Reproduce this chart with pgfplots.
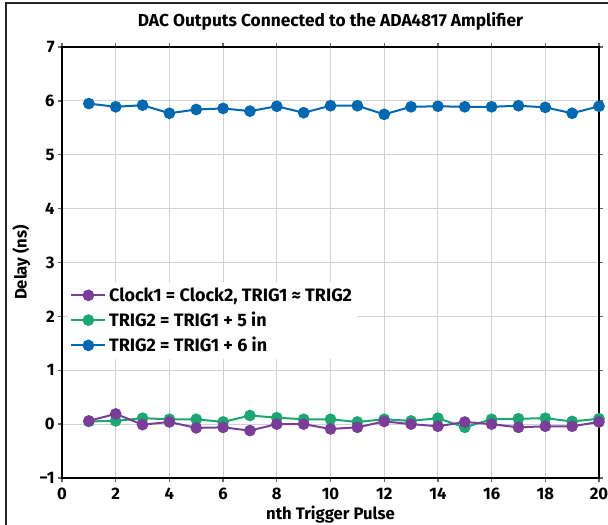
\documentclass[border=0pt]{standalone}
\usepackage{pgfplots}
\pgfplotsset{compat=1.18}
\usepackage{fontspec}
\setmainfont{Fira Sans}
\definecolor{cblue}{RGB}{0,103,177}
\definecolor{cgreen}{RGB}{28,166,114}
\definecolor{cpurple}{RGB}{122,62,152}
\begin{document}
\begin{tikzpicture}[x=0.75pt,y=0.75pt]
\useasboundingbox (0,0) rectangle (608,525);
\draw[line width=1.5pt,black!85] (6,0) -- (6,522) -- (610,522);
\begin{axis}[
  at={(46.5pt,35.25pt)}, anchor=south west,
  scale only axis, width=402.75pt, height=323.25pt,
  xmin=0, xmax=20, ymin=-1, ymax=7,
  xtick={0,2,...,20}, ytick={-1,0,...,7},
  yticklabels={−1,0,1,2,3,4,5,6,7},
  xticklabels={0,2,4,6,8,10,12,14,16,18,20},
  axis line style={line width=1.6pt},
  grid=major, grid style={line width=0.8pt, black!18},
  tick align=outside, major tick length=3pt,
  tick style={line width=1pt, black!60},
  ticklabel style={font=\fontsize{12.5}{14}\selectfont\bfseries},
  xticklabel style={yshift=-1pt},
  yticklabel style={xshift=1pt},
  xlabel={nth Trigger Pulse}, ylabel={Delay (ns)},
  label style={font=\fontsize{12.5}{14}\selectfont\bfseries},
  xlabel style={yshift=2pt},
  ylabel style={yshift=0pt},
  title={DAC Outputs Connected to the ADA4817 Amplifier},
  title style={font=\fontsize{13}{15}\selectfont\bfseries, yshift=3pt},
  legend style={at={(0.01,0.455)}, anchor=north west, draw=none, fill=white,
    font=\fontsize{13.5}{15}\selectfont\bfseries, row sep=2.5pt,
    inner sep=2pt},
  legend cell align=left,
  legend image code/.code={\draw[mark repeat=2, mark phase=2] plot coordinates {(0cm,0cm) (0.45cm,0cm) (0.9cm,0cm)};},
  reverse legend,
  every axis plot/.append style={line width=1.5pt, mark=*, mark size=3.6pt},
]
\addplot[cblue, mark options={fill=cblue}] coordinates {
(1,5.95)(2,5.89)(3,5.92)(4,5.77)(5,5.84)(6,5.86)(7,5.81)(8,5.90)(9,5.78)(10,5.91)
(11,5.91)(12,5.75)(13,5.89)(14,5.90)(15,5.89)(16,5.89)(17,5.91)(18,5.88)(19,5.77)(20,5.90)};
\addlegendentry{TRIG2 = TRIG1 + 6 in}
\addplot[cgreen, mark options={fill=cgreen}] coordinates {
(1,0.05)(2,0.06)(3,0.11)(4,0.09)(5,0.09)(6,0.04)(7,0.16)(8,0.12)(9,0.09)(10,0.09)
(11,0.04)(12,0.09)(13,0.06)(14,0.11)(15,-0.06)(16,0.09)(17,0.10)(18,0.11)(19,0.05)(20,0.10)};
\addlegendentry{TRIG2 = TRIG1 + 5 in}
\addplot[cpurple, mark options={fill=cpurple}] coordinates {
(1,0.06)(2,0.19)(3,-0.01)(4,0.04)(5,-0.07)(6,-0.06)(7,-0.12)(8,0.0)(9,0.0)(10,-0.09)
(11,-0.06)(12,0.05)(13,0.0)(14,-0.04)(15,0.04)(16,0.0)(17,-0.06)(18,-0.04)(19,-0.04)(20,0.04)};
\addlegendentry{Clock1 = Clock2, TRIG1 ≈ TRIG2}
\end{axis}
\end{tikzpicture}
\end{document}
